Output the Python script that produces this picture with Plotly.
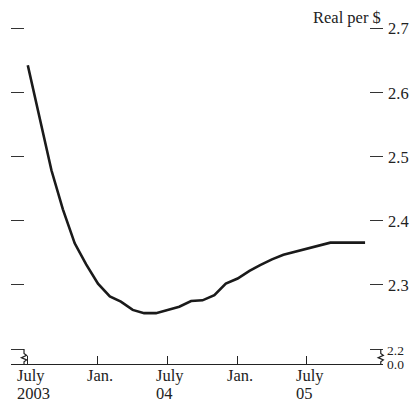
import plotly.graph_objects as go
import pandas as pd

# Data: monthly, July 2003 - Dec 2005 (Real per US$)
dates = pd.date_range("2003-07-01", "2005-12-01", freq="MS")
values = [2.643, 2.562, 2.479, 2.418, 2.365, 2.332, 2.302, 2.282, 2.274, 2.261,
          2.256, 2.256, 2.261, 2.266, 2.275, 2.276, 2.284, 2.302, 2.310, 2.322,
          2.331, 2.340, 2.347, 2.352, 2.357, 2.361, 2.366, 2.366, 2.366, 2.366]

x_tick_vals = ["2003-07-01", "2004-01-01", "2004-07-01", "2005-01-01", "2005-07-01"]
x_tick_text = ["July<br>2003", "Jan.", "July<br>04", "Jan.", "July<br>05"]
y_tick_vals = [2.2, 2.3, 2.4, 2.5, 2.6, 2.7]
y_tick_text = ["", "2.3", "2.4", "2.5", "2.6", "2.7"]
break_labels = ["2.2", "0.0"]
unit_label = "Real per $"

FONT = "Liberation Serif"
FS = 16.5
Y_BOTTOM = 2.1766
Y_TOP = 2.7136

fig = go.Figure()
fig.add_trace(go.Scatter(x=dates, y=values, mode="lines",
                         line=dict(color="#1a1a1a", width=2.6),
                         hoverinfo="skip", showlegend=False))

fig.update_layout(
    width=419, height=403, autosize=False,
    margin=dict(l=11, r=36, t=20, b=39),
    paper_bgcolor="white", plot_bgcolor="white",
    font=dict(family=FONT, size=FS, color="#222"),
    xaxis=dict(range=["2003-05-18", "2006-01-17"], tickvals=x_tick_vals,
               showticklabels=False, ticks="inside", ticklen=8, tickwidth=1.3,
               tickcolor="#222", showline=True, linecolor="#222", linewidth=1.4,
               showgrid=False, zeroline=False),
    yaxis=dict(range=[Y_BOTTOM, Y_TOP], side="right", tickvals=y_tick_vals,
               ticktext=y_tick_text, ticks="inside", ticklen=13, tickwidth=1.3,
               tickcolor="#333", mirror="ticks", showline=False, showgrid=False,
               zeroline=False, ticklabelstandoff=4,
               tickfont=dict(family=FONT, size=FS, color="#222")),
)

# x tick labels, left aligned under ticks, lines set tightly
for v, t in zip(x_tick_vals, x_tick_text):
    for i, line in enumerate(t.split("<br>")):
        fig.add_annotation(x=v, y=0, xref="x", yref="paper", text=line, showarrow=False,
                           xanchor="left", yanchor="top", align="left", xshift=-12,
                           yshift=-1 - 18 * i, borderpad=0,
                           font=dict(family=FONT, size=FS, color="#222"))

# axis-break labels "2.2" over "0.0"
fig.add_annotation(x=1, y=2.2, xref="paper", yref="y", text=break_labels[0], showarrow=False,
                   xanchor="left", yanchor="middle", xshift=3, yshift=-1, borderpad=0,
                   font=dict(family=FONT, size=13.5, color="#222"))
fig.add_annotation(x=1, y=Y_BOTTOM, xref="paper", yref="y", text=break_labels[1], showarrow=False,
                   xanchor="left", yanchor="middle", xshift=3, yshift=0, borderpad=0,
                   font=dict(family=FONT, size=13.5, color="#222"))
# unit label
fig.add_annotation(x=1, y=1, xref="paper", yref="paper", text=unit_label, showarrow=False,
                   xanchor="right", yanchor="bottom", xshift=0, yshift=-9,
                   font=dict(family=FONT, size=FS, color="#222"))

# axis break zigzags
def zig(x0):
    w = 0.007
    return (f"M {x0},2.2 L {x0},2.193 L {x0+w},2.190 L {x0-w},2.1865 "
            f"L {x0+w},2.183 L {x0},2.180 L {x0},{Y_BOTTOM}")

for x0 in [0.035, 0.994]:
    fig.add_shape(type="path", path=zig(x0), xref="paper", yref="y",
                  line=dict(color="#222", width=1.2))

fig.write_html("out.html", config={"displayModeBar": False},
               post_script="document.body.style.margin='0';document.body.style.overflow='hidden';")
